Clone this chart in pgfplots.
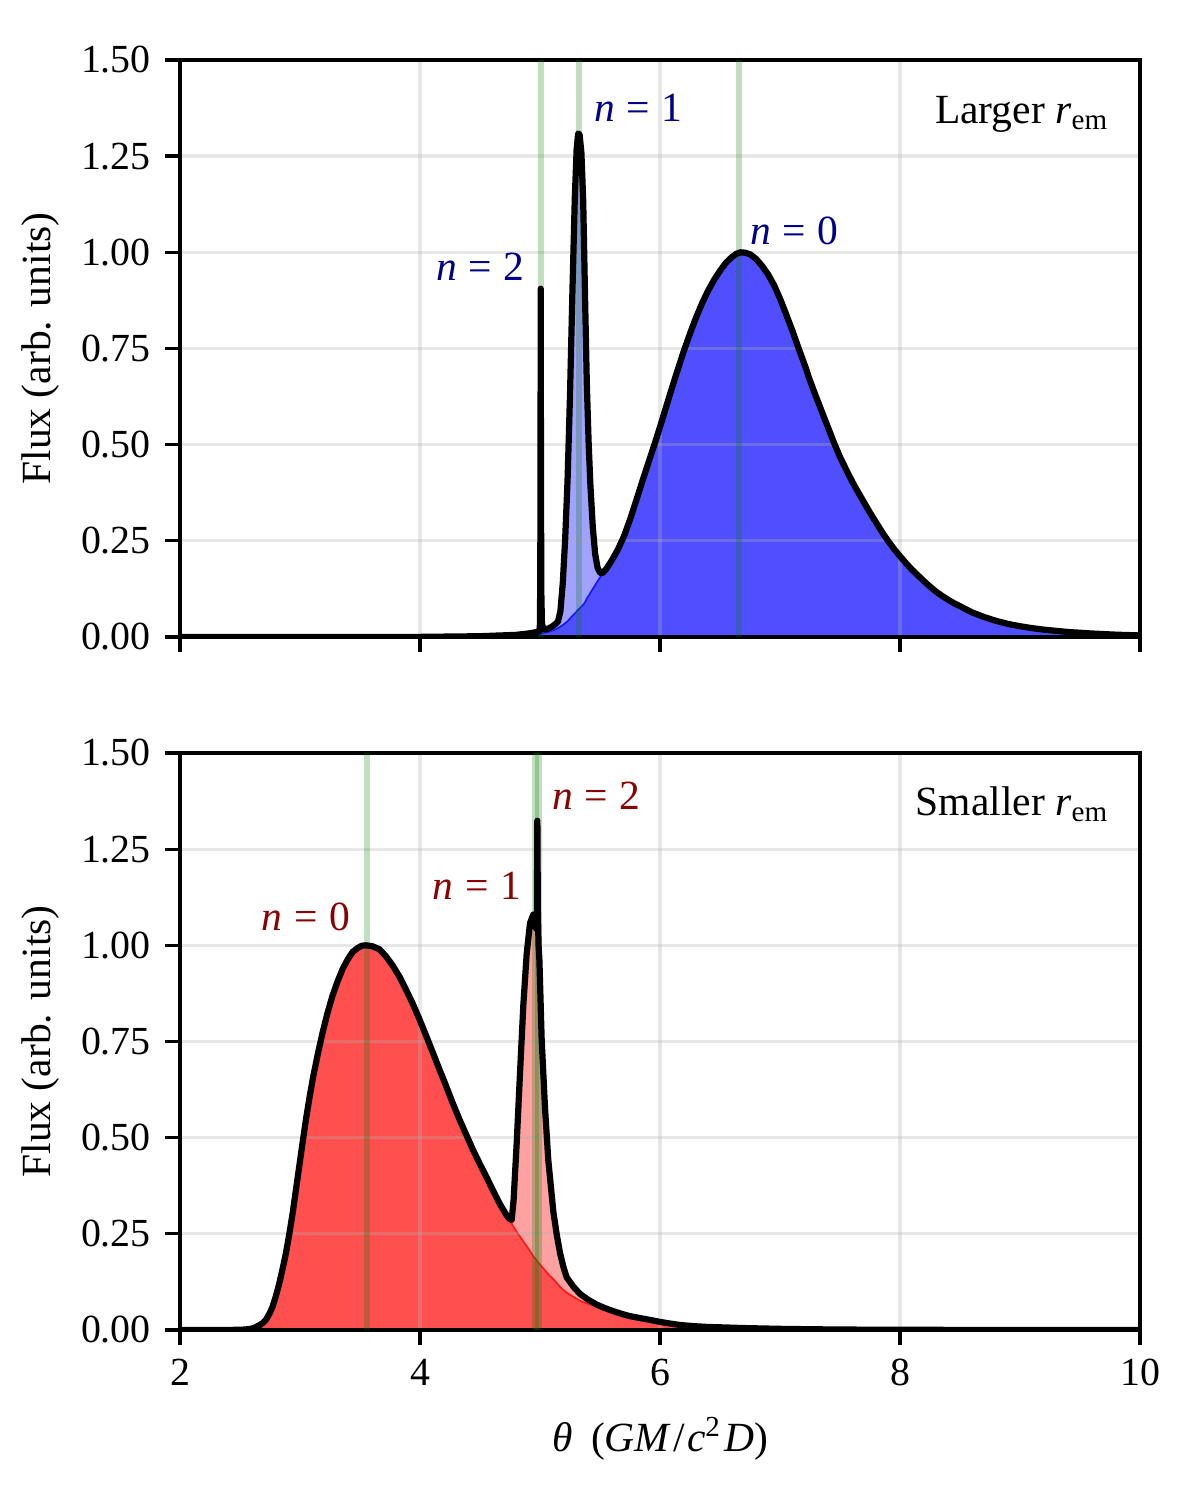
\documentclass[border=0pt]{standalone}
\usepackage{fontspec}
\setmainfont{Liberation Serif}
\usepackage{pgfplots}
\usepackage{pgfplotstable}
\pgfplotsset{compat=1.18}
\definecolor{mplgreen}{RGB}{0,128,0}
\definecolor{gridc}{RGB}{176,176,176}
\definecolor{labblue}{RGB}{0,0,139}
\definecolor{labred}{RGB}{139,0,0}
\colorlet{blueD}{blue!69!white}
\colorlet{blueL}{blue!37!white}
\colorlet{redD}{red!69!white}
\colorlet{redL}{red!37!white}

\pgfplotstableread{
x n0 n1 n2
2.0 0 0 0
3.0 0 0 0
4.0 0.0003 0 0
4.5 0.0015 0.0005 0
4.8 0.0035 0.002 0
4.9 0.005 0.004 0
4.95 0.0065 0.005 0
4.995 0.0078 0.007 0
5.0 0.008 0.007 0.02
5.004 0.0083 0.007 0.3
5.006 0.0085 0.007 0.89
5.008 0.0087 0.007 0.4
5.011 0.009 0.007 0.1
5.016 0.0095 0.0072 0.02
5.025 0.0103 0.0075 0.005
5.04 0.0115 0.008 0
5.07 0.013 0.009 0
5.1 0.016 0.011 0
5.13 0.02 0.014 0
5.15 0.023 0.017 0
5.17 0.027 0.04 0
5.19 0.031 0.11 0
5.21 0.036 0.22 0
5.23 0.041 0.37 0
5.25 0.048 0.58 0
5.27 0.055 0.84 0
5.29 0.061 1.08 0
5.305 0.066 1.2 0
5.318 0.071 1.238 0
5.33 0.074 1.232 0
5.345 0.079 1.18 0
5.36 0.084 1.05 0
5.375 0.09 0.8 0
5.39 0.1 0.56 0
5.405 0.107 0.4 0
5.42 0.115 0.28 0
5.44 0.125 0.16 0
5.46 0.135 0.08 0
5.48 0.145 0.035 0
5.50 0.155 0.012 0
5.52 0.163 0.003 0
5.55 0.176 0 0
5.6 0.2 0 0
5.65 0.228 0 0
5.7 0.262 0 0
5.75 0.305 0 0
5.8 0.353 0 0
5.85 0.402 0 0
5.9 0.45 0 0
5.95 0.497 0 0
6.0 0.546 0 0
6.05 0.597 0 0
6.1 0.648 0 0
6.15 0.697 0 0
6.2 0.745 0 0
6.25 0.789 0 0
6.3 0.83 0 0
6.35 0.867 0 0
6.4 0.9 0 0
6.45 0.928 0 0
6.5 0.952 0 0
6.55 0.973 0 0
6.6 0.988 0 0
6.635 0.996 0 0
6.67 1.0 0 0
6.71 0.999 0 0
6.75 0.995 0 0
6.8 0.983 0 0
6.85 0.965 0 0
6.9 0.943 0 0
6.95 0.915 0 0
7.0 0.88 0 0
7.05 0.84 0 0
7.1 0.799 0 0
7.15 0.755 0 0
7.22 0.695 0 0
7.24 0.675 0 0
7.3 0.625 0 0
7.35 0.585 0 0
7.4 0.545 0 0
7.45 0.505 0 0
7.5 0.468 0 0
7.55 0.436 0 0
7.6 0.405 0 0
7.65 0.377 0 0
7.7 0.35 0 0
7.75 0.323 0 0
7.8 0.298 0 0
7.85 0.273 0 0
7.9 0.25 0 0
7.95 0.229 0 0
8.0 0.21 0 0
8.05 0.192 0 0
8.1 0.175 0 0
8.15 0.16 0 0
8.2 0.145 0 0
8.25 0.131 0 0
8.3 0.118 0 0
8.35 0.107 0 0
8.4 0.097 0 0
8.45 0.088 0 0
8.5 0.08 0 0
8.55 0.072 0 0
8.6 0.064 0 0
8.7 0.052 0 0
8.8 0.042 0 0
8.9 0.034 0 0
9.0 0.028 0 0
9.1 0.023 0 0
9.2 0.019 0 0
9.3 0.016 0 0
9.4 0.013 0 0
9.5 0.011 0 0
9.6 0.009 0 0
9.7 0.0075 0 0
9.8 0.006 0 0
9.9 0.005 0 0
10.0 0.004 0 0
}\toptab

\pgfplotstableread{
x n0 n1 n2
2.0 0 0 0
2.5 0.0004 0 0
2.55 0.0015 0 0
2.606 0.004 0 0
2.66 0.012 0 0
2.69 0.018 0 0
2.717 0.027 0 0
2.745 0.042 0 0
2.772 0.061 0 0
2.80 0.089 0 0
2.828 0.122 0 0
2.855 0.159 0 0
2.883 0.2 0 0
2.911 0.25 0 0
2.939 0.304 0 0
2.966 0.364 0 0
2.994 0.426 0 0
3.022 0.488 0 0
3.05 0.548 0 0
3.078 0.602 0 0
3.106 0.652 0 0
3.148 0.717 0 0
3.189 0.774 0 0
3.23 0.825 0 0
3.272 0.87 0 0
3.314 0.907 0 0
3.356 0.939 0 0
3.397 0.963 0 0
3.439 0.983 0 0
3.48 0.993 0 0
3.515 0.999 0 0
3.55 1.0 0 0
3.6 0.998 0 0
3.661 0.99 0 0
3.715 0.972 0 0
3.772 0.948 0 0
3.83 0.918 0 0
3.883 0.885 0 0
3.94 0.848 0 0
3.994 0.809 0 0
4.05 0.766 0 0
4.106 0.722 0 0
4.16 0.679 0 0
4.217 0.635 0 0
4.27 0.592 0 0
4.328 0.548 0 0
4.385 0.508 0 0
4.439 0.47 0 0
4.495 0.434 0 0
4.55 0.4 0 0
4.605 0.365 0 0
4.661 0.33 0 0
4.72 0.298 0.001 0
4.745 0.285 0.004 0
4.764 0.277 0.009 0
4.78 0.268 0.07 0
4.806 0.255 0.232 0
4.833 0.243 0.422 0
4.861 0.23 0.614 0
4.889 0.218 0.76 0
4.917 0.205 0.853 0
4.944 0.192 0.888 0
4.96 0.186 0.87 0
4.968 0.183 0.86 0
4.974 0.180 0.85 0.05
4.978 0.179 0.845 0.30
4.982 0.177 0.835 0.08
4.988 0.175 0.815 0.01
4.995 0.172 0.79 0
5.014 0.165 0.589 0
5.042 0.155 0.421 0
5.069 0.145 0.297 0
5.111 0.132 0.176 0
5.14 0.122 0.125 0
5.167 0.112 0.088 0
5.195 0.104 0.06 0
5.222 0.097 0.04 0
5.28 0.086 0.026 0
5.333 0.076 0.018 0
5.4 0.068 0.011 0
5.472 0.06 0.006 0
5.54 0.054 0.003 0
5.611 0.048 0.001 0
5.68 0.042 0 0
5.75 0.036 0 0
5.833 0.031 0 0
5.92 0.026 0 0
6.0 0.021 0 0
6.08 0.017 0 0
6.167 0.013 0 0
6.28 0.010 0 0
6.39 0.008 0 0
6.55 0.0065 0 0
6.7 0.005 0 0
6.85 0.004 0 0
7.0 0.003 0 0
7.25 0.002 0 0
7.5 0.0012 0 0
8.0 0.0005 0 0
9.0 0.0001 0 0
10.0 0 0 0
}\bottab

\pgfplotsset{
  myaxis/.style={
    set layers,
    scale only axis, width=3.2in, height=1.92333in,
    xmin=2, xmax=10, ymin=0, ymax=1.5,
    xtick={2,4,6,8,10}, ytick={0,0.25,0.5,0.75,1,1.25,1.5},
    grid=major,
    major grid style={draw=gridc, opacity=0.3, line width=0.8pt},
    tick align=outside, tick pos=left, major tick length=3.5pt,
    major tick style={black, line width=0.8pt},
    axis line style={line width=0.8pt},
    /pgf/number format/assume math mode=true,
    tick label style={font=\fontsize{9.6}{11}\selectfont},
    label style={font=\fontsize{10}{12}\selectfont},
    yticklabel style={/pgf/number format/.cd, fixed, fixed zerofill, precision=2, assume math mode=true},
    ylabel={Flux (arb. units)},
    ylabel style={at={(axis description cs:-0.1458,0.5)}, anchor=center},
  },
}
\tikzset{nlab/.style={font=\fontsize{10}{12}\selectfont, inner sep=0pt}}
\newcommand{\nlabel}[1]{\textit{n}\hspace{0.28em}=\hspace{0.28em}#1}

\begin{document}
\begin{tikzpicture}
\begin{axis}[myaxis, at={(0,2.31in)}, anchor=south west, xticklabel=\empty]
  \addplot[on layer=axis background, fill=blueL, draw=none, mark=none]
    table[x=x, y expr=\thisrow{n0}+\thisrow{n1}] {\toptab} \closedcycle;
  \addplot[on layer=axis background, fill=blueD, draw=blue!91!white, line width=0.4pt, mark=none]
    table[x=x, y=n0] {\toptab} \closedcycle;
  \addplot[mplgreen, opacity=0.25, line width=1.5pt, mark=none] coordinates {(5.006,0) (5.006,1.5)};
  \addplot[mplgreen, opacity=0.25, line width=1.5pt, mark=none] coordinates {(5.325,0) (5.325,1.5)};
  \addplot[mplgreen, opacity=0.25, line width=1.5pt, mark=none] coordinates {(6.658,0) (6.658,1.5)};
  \addplot[black, line width=1.5pt, line join=round, mark=none]
    table[x=x, y expr=\thisrow{n0}+\thisrow{n1}+\thisrow{n2}] {\toptab};
  \node[nlab, text=labblue, anchor=base west] at (axis cs:5.447,1.339) {\nlabel{1}};
  \node[nlab, text=labblue, anchor=base west] at (axis cs:6.747,1.021) {\nlabel{0}};
  \node[nlab, text=labblue, anchor=base east] at (axis cs:4.875,0.927) {\nlabel{2}};
  \node[nlab, anchor=base east] at (rel axis cs:0.96875,0.8898) {Larger \textit{r}\textsubscript{em}};
\end{axis}

\begin{axis}[myaxis, at={(0,0)}, anchor=south west,
    xlabel={\textit{θ}\hspace{0.45em}(\textit{GM}\kern0.05em/\kern0.05em\textit{c}\textsuperscript{2}\kern0.05em\textit{D})},
    xlabel style={at={(axis description cs:0.5,-0.189)}, anchor=center}]
  \addplot[on layer=axis background, fill=redL, draw=none, mark=none]
    table[x=x, y expr=\thisrow{n0}+\thisrow{n1}] {\bottab} \closedcycle;
  \addplot[on layer=axis background, fill=redD, draw=red!91!white, line width=0.4pt, mark=none]
    table[x=x, y=n0] {\bottab} \closedcycle;
  \addplot[mplgreen, opacity=0.25, line width=1.5pt, mark=none] coordinates {(3.556,0) (3.556,1.5)};
  \addplot[mplgreen, opacity=0.25, line width=1.5pt, mark=none] coordinates {(4.962,0) (4.962,1.5)};
  \addplot[mplgreen, opacity=0.25, line width=1.5pt, mark=none] coordinates {(4.987,0) (4.987,1.5)};
  \addplot[black, line width=1.5pt, line join=round, mark=none]
    table[x=x, y expr=\thisrow{n0}+\thisrow{n1}+\thisrow{n2}] {\bottab};
  \node[nlab, text=labred, anchor=base east] at (axis cs:3.422,1.039) {\nlabel{0}};
  \node[nlab, text=labred, anchor=base east] at (axis cs:4.847,1.118) {\nlabel{1}};
  \node[nlab, text=labred, anchor=base west] at (axis cs:5.097,1.352) {\nlabel{2}};
  \node[nlab, anchor=base east] at (rel axis cs:0.96875,0.8925) {Smaller \textit{r}\textsubscript{em}};
\end{axis}
\path (-0.6in,-0.56667in) rectangle (3.4in,4.43333in);
\end{tikzpicture}
\end{document}
